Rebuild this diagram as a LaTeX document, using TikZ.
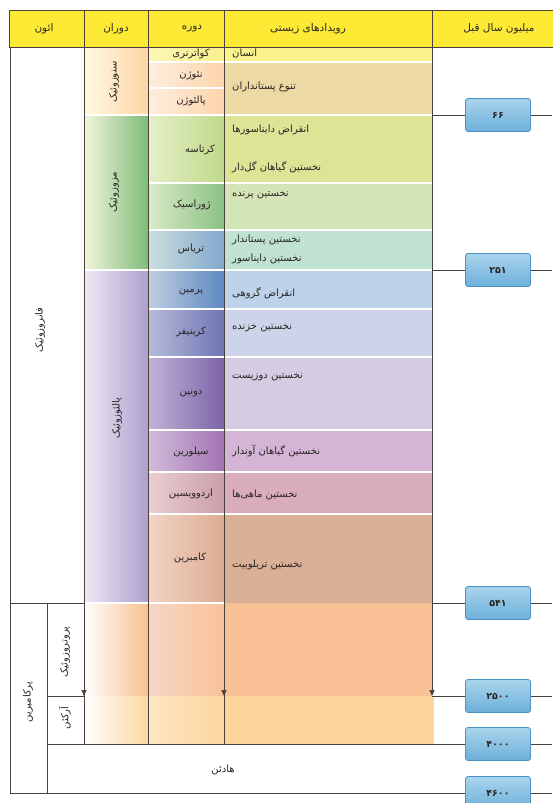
\documentclass[tikz,border=0pt]{standalone}
\usepackage{fontspec}
\usetikzlibrary{arrows.meta}
\TeXXeTstate=1
\newfontfamily\fa[Script=Arabic]{DejaVu Sans}
\newcommand\rl[1]{\beginR#1\endR}
\newcommand\gband[6]{\definecolor{bandL}{HTML}{#5}\definecolor{bandR}{HTML}{#6}\fill[left color=bandL,right color=bandR] (#1,#3) rectangle (#2,#4);}
\newcommand\fband[5]{\definecolor{bandF}{HTML}{#5}\fill[bandF] (#1,#3) rectangle (#2,#4);}
\definecolor{ln}{HTML}{4A413B}
\definecolor{hdr}{HTML}{FCEA35}
\definecolor{txt}{HTML}{2A2424}
\definecolor{bxt}{HTML}{AAD4EC}
\definecolor{bxb}{HTML}{6CB0DA}
\definecolor{bxd}{HTML}{4B92C3}
\begin{document}
\begin{tikzpicture}[x=1pt,y=-1pt,
  lin/.style={draw=ln,line width=0.9pt},
  arr/.style={lin,-{Triangle[length=6pt,width=5pt]}},
  tx/.style={text=txt,font=\fa\fontsize{10}{12}\selectfont,inner sep=0pt},
  evt/.style={tx,anchor=west},
  per/.style={tx},
  era/.style={tx,rotate=90},
  hd/.style={tx,font=\fa\fontsize{10.5}{12}\selectfont},
  yrbox/.style={draw=bxd,line width=0.8pt,rounded corners=2.5pt,top color=bxt,bottom color=bxb,minimum width=65pt,minimum height=33pt,inner sep=0pt,text=txt,font=\fa\bfseries\fontsize{9.5}{11}\selectfont},
]
\useasboundingbox (0,0) rectangle (552,803);
\fill[white] (0,0) rectangle (552,803);
% ---- era column fills
\gband{84}{148}{47}{115}{FFF9E2}{FCD5A6}
\gband{84}{148}{115}{270}{F2F5DC}{7EBC78}
\gband{84}{148}{270}{603}{EEEAF5}{ADA0CC}
\gband{84}{148}{603}{696}{FFFFFF}{F7C08F}
\gband{84}{148}{696}{744}{FFFFFF}{FCD7A0}
% ---- period column fills
\gband{148}{224}{47}{62}{FBF6B6}{F8F08C}
\gband{148}{224}{62}{88}{FDEEDC}{FCD4AC}
\gband{148}{224}{88}{115}{FDEEDC}{FCD4AC}
\gband{148}{224}{115}{183}{E6F0C8}{C0D98A}
\gband{148}{224}{183}{230}{D9EAC8}{8AC283}
\gband{148}{224}{230}{270}{CADEDE}{82A9CE}
\gband{148}{224}{270}{309}{BFCFE2}{5E88C2}
\gband{148}{224}{309}{357}{B6BCDA}{7074B4}
\gband{148}{224}{357}{430}{C2B2D6}{7C64A8}
\gband{148}{224}{430}{472}{D2BCDA}{A274B2}
\gband{148}{224}{472}{514}{EACED2}{C99EAA}
\gband{148}{224}{514}{603}{F2D4C6}{DCAC92}
\gband{148}{224}{603}{696}{F7D6C4}{F8C29A}
\gband{148}{224}{696}{744}{FDE6C0}{FCD6A0}
% ---- event column fills
\fband{224}{432}{47}{62}{FAF28C}
\fband{224}{432}{62}{115}{EDD9A3}
\fband{224}{432}{115}{183}{DCE596}
\fband{224}{432}{183}{230}{D4E5B8}
\fband{224}{432}{230}{270}{BFE2D3}
\fband{224}{432}{270}{309}{BDD3EB}
\fband{224}{432}{309}{357}{CDD3E9}
\fband{224}{432}{357}{430}{D5CBE3}
\fband{224}{432}{430}{472}{D5B5D6}
\fband{224}{432}{472}{514}{D9ADBC}
\fband{224}{432}{514}{603}{D9AF95}
\fband{224}{432}{603}{696}{F8C094}
\fband{224}{434}{696}{744}{FDD69E}
% ---- white separators
\foreach \yy in {115,270,603} \draw[white,line width=1.3pt] (84,\yy) -- (148,\yy);
\foreach \yy in {62,88,115,183,230,270,309,357,430,472,514,603} \draw[white,line width=1.3pt] (148,\yy) -- (224,\yy);
\foreach \yy in {62,115,183,230,270,309,357,430,472,514} \draw[white,line width=1.3pt] (224,\yy) -- (432,\yy);
% ---- header
\fill[hdr] (9,10) rectangle (556,47);
\draw[lin] (556,10) -- (9,10) -- (9,47) -- (556,47);
\foreach \xx in {84,148,224,432} \draw[lin] (\xx,10) -- (\xx,47);
% ---- grid lines
\draw[lin] (10,47) -- (10,793);
\draw[lin] (84,47) -- (84,744);
\draw[lin] (148,47) -- (148,744);
\draw[lin] (224,47) -- (224,744);
\draw[arr] (84,47) -- (84,696);
\draw[arr] (224,47) -- (224,696);
\draw[arr] (432,47) -- (432,696);
\draw[lin] (47,603) -- (47,793);
\draw[lin] (10,603) -- (84,603);
\draw[lin] (47,696) -- (84,696);
\draw[lin] (47,744) -- (552,744);
\draw[lin] (10,793) -- (552,793);
\foreach \yy in {115,270,603,696} \draw[lin] (432,\yy) -- (552,\yy);
% ---- header texts
\node[hd] (h1) at (44,29) {\rl{ائون}};
\node[hd] (h2) at (116,29) {\rl{دوران}};
\node[hd] (h3) at (192,29) {\rl{دوره}};
\node[hd] (h4) at (308,29) {\rl{رویدادهای زیستی}};
\node[hd] (h5) at (499,29) {\rl{میلیون سال قبل}};
% ---- eons & eras
\node[era] (e1) at (40,330) {\rl{فانروزوئیک}};
\node[era] (e2) at (28,702) {\rl{پرکامبرین}};
\node[era] (r1) at (114,82) {\rl{سنوزوئیک}};
\node[era] (r2) at (114,192) {\rl{مزوزوئیک}};
\node[era] (r3) at (117,418) {\rl{پالئوزوئیک}};
\node[era] (r4) at (65,652) {\rl{پروتروزوئیک}};
\node[era] (r5) at (65,718) {\rl{آرکئن}};
\node[tx] (r6) at (223,770) {\rl{هادئن}};
% ---- periods
\node[per] (p1) at (191,54) {\rl{کواترنری}};
\node[per] (p2) at (191,76) {\rl{نئوژن}};
\node[per] (p3) at (191,101) {\rl{پالئوژن}};
\node[per] (p4) at (200,150) {\rl{کرتاسه}};
\node[per] (p5) at (192,205) {\rl{ژوراسیک}};
\node[per] (p6) at (191,249) {\rl{تریاس}};
\node[per] (p7) at (191,292) {\rl{پرمین}};
\node[per] (p8) at (191,332) {\rl{کربنیفر}};
\node[per] (p9) at (191,393) {\rl{دونین}};
\node[per] (p10) at (191,452) {\rl{سیلورین}};
\node[per] (p11) at (191,494) {\rl{اردوویسین}};
\node[per] (p12) at (190,558) {\rl{کامبرین}};
% ---- events
\node[evt] (v1) at (232,54) {\rl{انسان}};
\node[evt] (v2) at (232,87) {\rl{تنوع پستانداران}};
\node[evt] (v3) at (232,130) {\rl{انقراض دایناسورها}};
\node[evt] (v4) at (232,167) {\rl{نخستین گیاهان گل‌دار}};
\node[evt] (v5) at (232,195) {\rl{نخستین پرنده}};
\node[evt] (v6) at (232,240) {\rl{نخستین پستاندار}};
\node[evt] (v7) at (232,259) {\rl{نخستین دایناسور}};
\node[evt] (v8) at (232,293) {\rl{انقراض گروهی}};
\node[evt] (v9) at (232,328) {\rl{نخستین خزنده}};
\node[evt] (v10) at (232,377) {\rl{نخستین دوزیست}};
\node[evt] (v11) at (232,451) {\rl{نخستین گیاهان آوندار}};
\node[evt] (v12) at (232,495) {\rl{نخستین ماهی‌ها}};
\node[evt] (v13) at (232,565) {\rl{نخستین تریلوبیت}};
% ---- year boxes
\node[yrbox] (b1) at (498,115) {\rl{۶۶}};
\node[yrbox] (b2) at (498,270) {\rl{۲۵۱}};
\node[yrbox] (b3) at (498,603) {\rl{۵۴۱}};
\node[yrbox] (b4) at (498,696) {\rl{۲۵۰۰}};
\node[yrbox] (b5) at (498,744) {\rl{۴۰۰۰}};
\node[yrbox] (b6) at (498,793) {\rl{۴۶۰۰}};
\end{tikzpicture}
\end{document}
